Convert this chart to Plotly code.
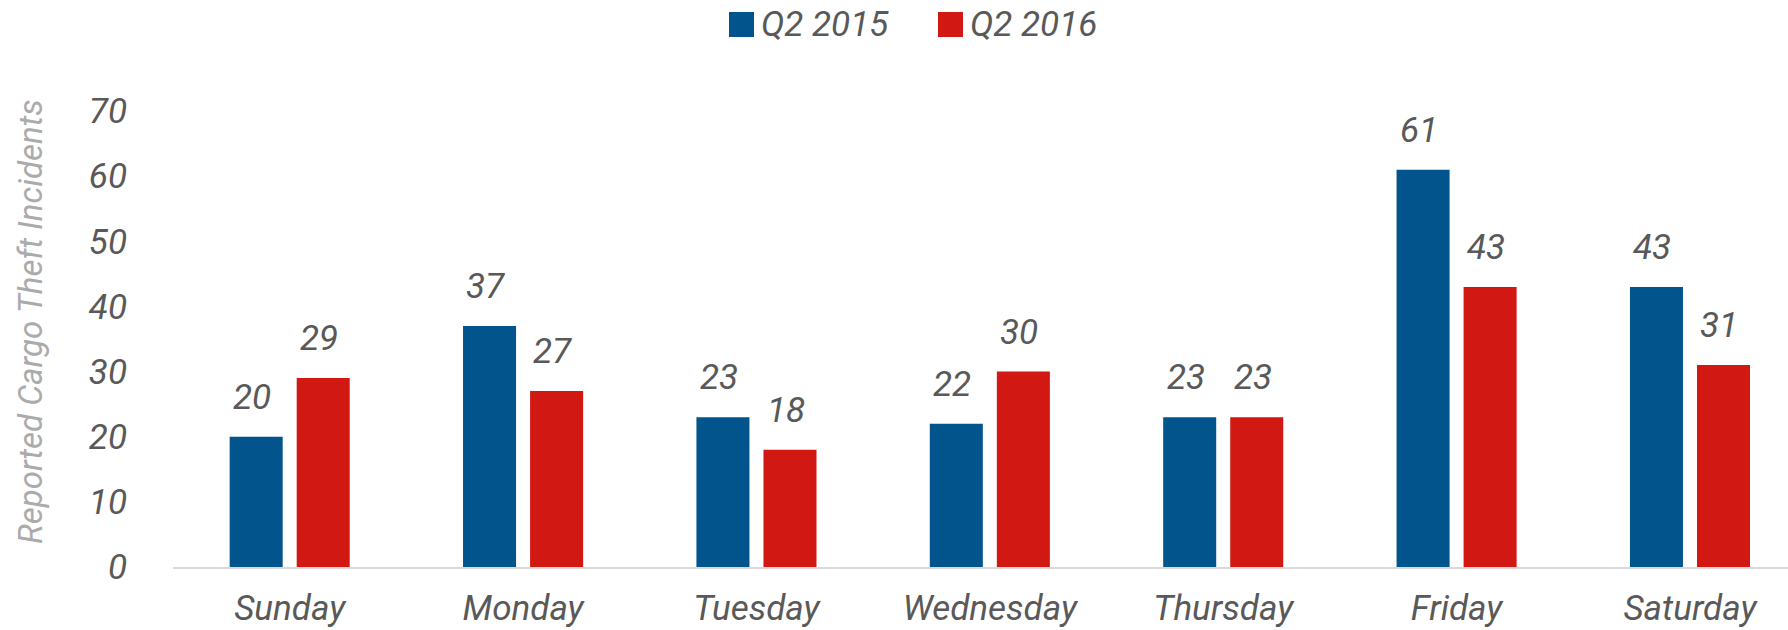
import plotly.graph_objects as go

days = ["Sunday", "Monday", "Tuesday", "Wednesday", "Thursday", "Friday", "Saturday"]
q2_2015 = [20, 37, 23, 22, 23, 61, 43]
q2_2016 = [29, 27, 18, 30, 23, 43, 31]
series_names = ["Q2 2015", "Q2 2016"]
colors = ["#02548C", "#D21813"]

W, H = 1788, 630
L, R, T, B = 173, 0, 111, 63
FONT = "Roboto"
TXT = "#595959"
FS = 35


def px_x(px):
    return (px - L) / (W - L - R)


def px_y(py):
    return (H - B - py) / (H - T - B)


fig = go.Figure()
for name, vals, col in zip(series_names, [q2_2015, q2_2016], colors):
    fig.add_trace(go.Bar(
        x=days, y=vals, name=name, marker_color=col,
        marker_line_width=0, showlegend=False, offsetgroup=name,
    ))

# value labels above the bars
slot_px = 233.25 * (1 - 0.4255) / 2
annotations = []
for i, vals in enumerate([q2_2015, q2_2016]):
    shift = (i - 0.5) * slot_px
    for d, v in zip(days, vals):
        annotations.append(dict(
            x=d, y=v, text=str(v), showarrow=False, xshift=shift - 4,
            yanchor="bottom", yshift=17,
            font=dict(family=FONT, size=FS, color=TXT, style="italic"),
        ))

# y title
annotations.append(dict(
    x=px_x(30), y=px_y(322), xref="paper", yref="paper",
    xanchor="center", yanchor="middle",
    text="Reported Cargo Theft Incidents", textangle=-90, showarrow=False,
    font=dict(family=FONT, size=33, color="#ABABAB", style="italic"),
))

# legend built by hand (square swatches)
shapes = []
for name, col, sx in zip(series_names, colors, [729, 938]):
    shapes.append(dict(
        type="rect", xref="paper", yref="paper",
        x0=px_x(sx), x1=px_x(sx + 25), y0=px_y(37), y1=px_y(12),
        fillcolor=col, line_width=0,
    ))
    annotations.append(dict(
        x=px_x(sx + 30), y=px_y(25), xref="paper", yref="paper",
        text=name, showarrow=False, xanchor="left", yanchor="middle",
        font=dict(family=FONT, size=FS, color=TXT, style="italic"),
    ))

fig.update_layout(
    width=W, height=H,
    margin=dict(l=L, r=R, t=T, b=B),
    paper_bgcolor="white", plot_bgcolor="white",
    barmode="group", bargap=0.4255, bargroupgap=0.209,
    font=dict(family=FONT, size=FS, color=TXT, style="italic"),
    annotations=annotations, shapes=shapes,
)
fig.update_xaxes(
    range=[-0.5, 6.42], showgrid=False, showline=True, linecolor="#D9D9D9",
    linewidth=2, ticks="", ticklabelstandoff=9, automargin=False,
    tickfont=dict(family=FONT, size=FS, color=TXT, style="italic"),
)
fig.update_yaxes(
    range=[0, 70], dtick=10, showgrid=False, zeroline=False, showline=False,
    ticks="", ticklabelstandoff=45, automargin=False,
    tickfont=dict(family=FONT, size=FS, color=TXT, style="italic"),
)

fig.write_html(
    "out.html",
    config={"displayModeBar": False},
    post_script="document.body.style.margin='0';",
)
